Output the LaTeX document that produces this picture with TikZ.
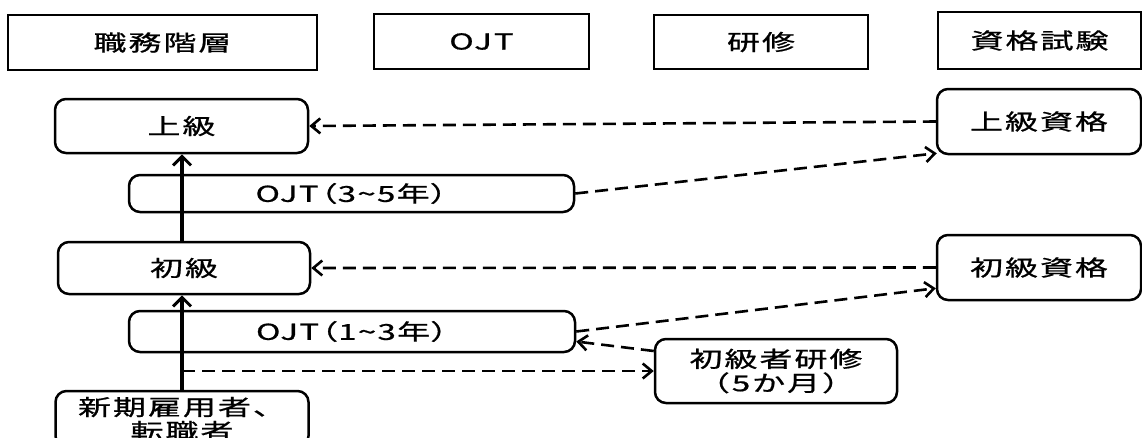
\documentclass[tikz,border=0pt]{standalone}
\usepackage{fontspec}
\newfontfamily\jp[FakeBold=0.7,LetterSpace=6]{Noto Sans CJK JP}
\newfontfamily\jpp[FakeBold=0.7,LetterSpace=4,RawFeature=+palt]{Noto Sans CJK JP}
\usetikzlibrary{arrows.meta,calc}
\newcommand{\sx}[1]{\scalebox{1.5}[1]{#1}}
\begin{document}
\begin{tikzpicture}[x=1pt,y=-1pt,
  hdr/.style={draw, line width=2.6pt, inner sep=0pt, font=\jp\fontsize{22}{24}\selectfont},
  rbox/.style={draw, rounded corners=11pt, line width=2.5pt, inner sep=0pt, align=center, font=\jp\fontsize{22}{24}\selectfont},
  dline/.style={line width=2.6pt, dash pattern=on 13pt off 7pt, -{Straight Barb[length=9pt,width=15pt,line width=2.6pt]}},
  sline/.style={line width=3.4pt, -{Straight Barb[length=9pt,width=18pt,line width=3pt]}}]
\useasboundingbox (0,0) rectangle (1142,437);
\clip (0,0) rectangle (1142,437);
% headers
\node[hdr, minimum width=309pt, minimum height=55pt] (h1) at (162.5,42.5) {\sx{職務階層}};
\node[hdr, minimum width=215pt, minimum height=55pt] (h2) at (481.5,41.5) {\sx{OJT}};
\node[hdr, minimum width=214pt, minimum height=54pt] (h3) at (761,42) {\sx{研修}};
\node[hdr, minimum width=203pt, minimum height=57pt] (h4) at (1039.5,40.5) {\sx{資格試験}};
% left column
\node[rbox, minimum width=253pt, minimum height=54pt] (jokyu) at (181.5,126) {\sx{上級}};
\node[rbox, minimum width=445pt, minimum height=37pt] (ojt35) at (351.5,193.5) {\jpp\sx{OJT（3\textasciitilde5年）}};
\node[rbox, minimum width=252pt, minimum height=52pt] (shokyu) at (184,268) {\sx{初級}};
\node[rbox, minimum width=446pt, minimum height=41pt] (ojt13) at (352,331.5) {\jpp\sx{OJT（1\textasciitilde3年）}};
\node[rbox, minimum width=253pt, minimum height=56pt] (new) at (182,419) {\sx{新期雇用者、}\\\sx{転職者}};
% right side
\node[rbox, minimum width=242pt, minimum height=64pt] (kenshu) at (776,371) {\sx{初級者研修}\\\sx{（5か月）}};
\node[rbox, minimum width=204pt, minimum height=65pt] (jq) at (1039,121.5) {\sx{上級資格}};
\node[rbox, minimum width=204pt, minimum height=65pt] (sq) at (1039,267.5) {\sx{初級資格}};
% solid arrows
\draw[sline] (new.north) -- (new.north |- shokyu.south);
\draw[sline] (new.north |- shokyu.north) -- (new.north |- jokyu.south);
% dashed arrows
\draw[dline] (jq.west) -- (jokyu.east);
\draw[dline] (ojt35.east) -- ($(jq.south west)+(1,-2)$);
\draw[dline] (sq.west) -- (shokyu.east);
\draw[dline] (ojt13.east) -- ($(sq.south west)+(0,-13)$);
\draw[dline] ($(kenshu.west)+(0,-20)$) -- ($(ojt13.east)+(0,10)$);
\coordinate (br) at (new.north |- kenshu.west);
\draw[dline] (br) -- (kenshu.west);
\end{tikzpicture}
\end{document}
